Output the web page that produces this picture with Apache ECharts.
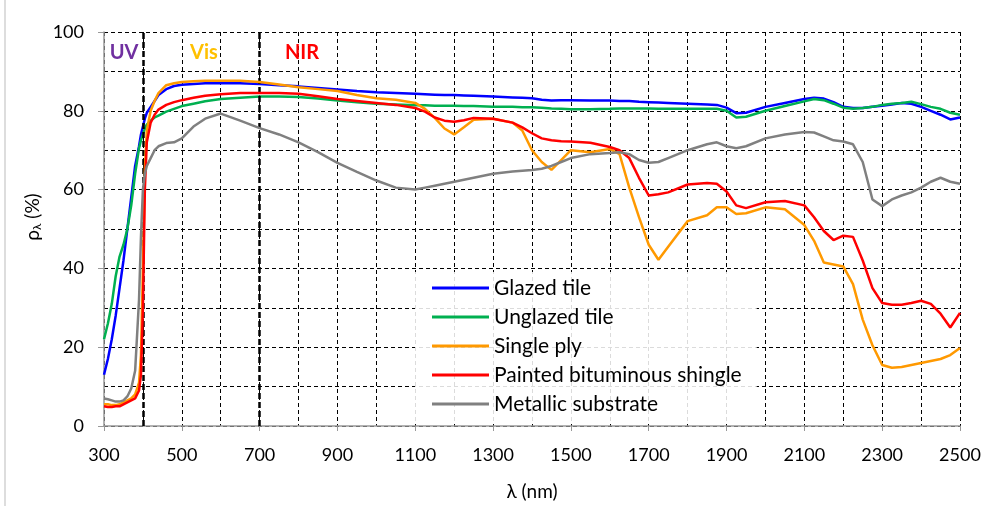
<!DOCTYPE html>
<html><head><meta charset="utf-8">
<script src="https://cdn.jsdelivr.net/npm/echarts@6/dist/echarts.min.js"></script>
<style>html,body{margin:0;padding:0;background:#fff}#c{width:992px;height:506px}</style>
</head><body><div id="c"></div>
<script>
const wavelengths = [300,310,320,330,340,350,360,370,380,390,395,400,405,410,420,430,440,460,480,500,530,560,600,650,700,750,800,850,900,950,1000,1050,1100,1125,1150,1175,1200,1225,1250,1300,1350,1375,1400,1425,1450,1475,1500,1550,1600,1625,1650,1675,1700,1725,1750,1800,1850,1875,1900,1925,1950,2000,2050,2100,2125,2150,2175,2200,2225,2250,2275,2300,2325,2350,2375,2400,2425,2450,2475,2500];

const glazedTile = [13,17,22,28,35,42,50,58,66,71,74,76,78,79.5,81,82.5,84,85.5,86.3,86.6,86.8,87,87,87,86.8,86.5,86.2,85.8,85.4,85,84.7,84.5,84.3,84.2,84.1,84,84,83.9,83.8,83.6,83.4,83.3,83.2,82.8,82.6,82.7,82.7,82.6,82.6,82.5,82.5,82.3,82.2,82.1,82,81.8,81.6,81.5,80.8,79.4,79.5,81,82,83,83.3,83.1,82.2,81,80.7,80.7,81,81.3,81.6,82,81.8,81,80,79,77.8,78.3];

const unglazedTile = [22,26,31,38,43,46,50,56,64,70.5,72.5,74,75.5,76.5,77.5,78.3,78.8,79.8,80.5,81.2,81.8,82.4,83,83.3,83.6,83.6,83.5,83.1,82.6,82.2,81.8,81.6,81.4,81.4,81.3,81.3,81.3,81.2,81.2,81,81,80.9,80.9,80.8,80.6,80.5,80.4,80.4,80.5,80.6,80.6,80.6,80.6,80.5,80.5,80.5,80.5,80.5,80,78.3,78.5,80,81.2,82.4,83,82.7,81.8,80.8,80.5,80.7,81,81.5,81.8,82,82.3,81.7,81,80.5,79.5,79];

const singlePly = [5.5,5.5,5.3,5.3,5.5,6,6.5,7,8,11,18,40,65,75,80,82.5,84.5,86.5,87,87.3,87.5,87.6,87.6,87.6,87.3,86.7,86,85.5,85,84,83.2,82.8,82,80.5,78.2,75.5,74,75.8,77.7,78,77,75,70,67,65,67.5,70,69.5,70.3,69,60.5,53,46,42.2,45.5,52,53.5,55.5,55.5,53.8,54,55.5,55,51,47,41.5,41,40.5,36,27,20.5,15.5,14.8,15,15.5,16,16.5,17,18,19.8];

const paintedShingle = [5,4.8,4.8,5,5,5.5,6,6.5,7,9,13,30,60,72,77,79,80.3,81.5,82.2,82.7,83.3,83.8,84.2,84.5,84.5,84.5,84.3,83.7,83,82.5,82,81.5,80.7,79.8,78.3,77.5,77.2,77.6,78.2,78,77,75.8,74.3,73,72.5,72.3,72.2,71.9,70.8,70,68,63,58.5,58.8,59.3,61.3,61.7,61.5,59.5,56,55.3,56.8,57.1,56,53,49.5,47.2,48.3,48,42,35,31.2,30.8,30.8,31.2,31.8,31,28.5,25,28.7];

const metallicSubstrate = [7,6.8,6.5,6.2,6.2,6.5,7.5,9.5,14,32,48,60,64,66,68,70,71,71.8,72,73,76,78,79.3,77.5,75.6,74,72,69.5,66.8,64.5,62.3,60.5,60,60.5,61,61.5,62,62.5,63,64,64.6,64.8,65,65.3,66,67,68,69,69.3,69.5,69,67.5,66.8,67,68,70,71.5,72,71,70.5,71,73,74,74.6,74.5,73.5,72.5,72.2,71.5,67,57.5,55.8,57.5,58.5,59.3,60.5,62,63,62,61.5];

const seriesNames = ['Glazed tile','Unglazed tile','Single ply','Painted bituminous shingle','Metallic substrate'];
const seriesValues = [glazedTile, unglazedTile, singlePly, paintedShingle, metallicSubstrate];
const seriesColors = ['#0000FF','#00B050','#FF9900','#FF0000','#808080'];
const regionBoundaries = [400, 700];
const regionLabels = ['UV','Vis','NIR'];
const regionColors = ['#7030A0','#FFC000','#FF0000'];
const xMin = 300, xMax = 2500, xStep = 200;
const yMin = 0, yMax = 100, yStep = 20;

const FONT = 'Lato';
const chart = echarts.init(document.getElementById('c'), null, {renderer:'canvas'});

const series = seriesNames.map((n,i)=>({
  name:n, type:'line', showSymbol:false, symbol:'none',
  data: wavelengths.map((w,k)=>[w, seriesValues[i][k]]),
  lineStyle:{color:seriesColors[i], width:2.5},
  itemStyle:{color:seriesColors[i]},
  z: 3+i
}));
series[0].markLine = {
  silent:true, symbol:['none','none'], label:{show:false},
  lineStyle:{color:'#000', type:[6,3], width:2.5},
  data: regionBoundaries.map(v=>({xAxis:v}))
};

const labelX = [124, 204, 302];
chart.setOption({
  animation:false,
  backgroundColor:'#fff',
  grid:{left:104, right:32, top:32, bottom:80, containLabel:false},
  xAxis:{
    type:'value', min:xMin, max:xMax, interval:xStep,
    name:'λ (nm)', nameLocation:'middle', nameGap:56,
    nameTextStyle:{fontFamily:FONT, fontSize:19, color:'#000'},
    axisLine:{lineStyle:{color:'#999', width:1.5}},
    axisTick:{show:true, length:5, lineStyle:{color:'#999'}},
    axisLabel:{fontFamily:FONT, fontSize:18, color:'#000', margin:20, formatter:v=>String(v)},
    splitLine:{show:true, lineStyle:{color:'#000', type:[4,3], width:1}},
    minorTick:{show:false, splitNumber:2},
    minorSplitLine:{show:true, lineStyle:{color:'#000', type:[4,3], width:1}}
  },
  yAxis:{
    type:'value', min:yMin, max:yMax, interval:yStep,
    axisLine:{show:true, lineStyle:{color:'#999', width:1.5}},
    axisTick:{show:true, length:6, lineStyle:{color:'#999'}},
    axisLabel:{fontFamily:FONT, fontSize:18, color:'#000', margin:20},
    splitLine:{show:true, lineStyle:{color:'#000', type:[4,3], width:1}},
    minorTick:{show:false, splitNumber:2},
    minorSplitLine:{show:true, lineStyle:{color:'#000', type:[4,3], width:1}}
  },
  legend:{
    orient:'vertical', left:415, top:272,
    padding:[4,15,6,17], itemGap:5, itemWidth:57, itemHeight:3,
    icon:'rect', backgroundColor:'rgba(255,255,255,0.86)',
    textStyle:{fontFamily:FONT, fontSize:21, color:'#000', lineHeight:24},
    data:seriesNames
  },
  graphic:[
    {type:'line', shape:{x1:5,y1:0,x2:5,y2:506}, style:{stroke:'#bbb', lineWidth:1}},
    {type:'text', x:33, y:217, rotation:Math.PI/2, z:100,
      style:{text:'ρ{s|λ} (%)', fill:'#000', font:'19px '+FONT, align:'center', verticalAlign:'middle',
        rich:{s:{fontFamily:FONT, fontSize:12, fill:'#000', padding:[9,0,0,0]}}}},
    ...regionLabels.map((t,i)=>({type:'text', x:labelX[i], y:53, z:100,
      style:{text:t, fill:regionColors[i], font:'bold 20px '+FONT, align:'center', verticalAlign:'middle'}}))
  ],
  series
});
</script></body></html>
